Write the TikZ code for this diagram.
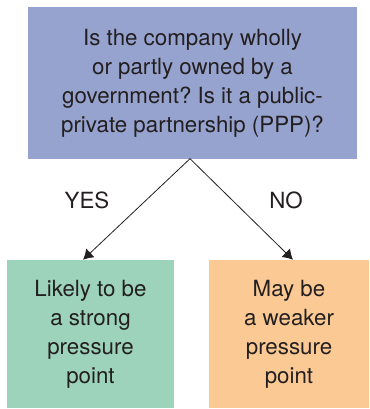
\documentclass[tikz,border=0pt]{standalone}
\usepackage{fontspec}
\setmainfont{TeX Gyre Heros}
\usepackage{xcolor}
\usetikzlibrary{arrows.meta}
\definecolor{askbg}{HTML}{97A3CF}
\definecolor{yesbg}{HTML}{9DD3BA}
\definecolor{nobg}{HTML}{FBCA94}
\definecolor{ink}{HTML}{231F20}
\frenchspacing

\begin{document}
\begin{tikzpicture}[x=1pt,y=-1pt,font=\fontsize{22.3}{29}\selectfont,text=ink,
        box/.style={inner sep=0pt,align=center,anchor=center},
        pick/.style={-{Latex[length=10pt,width=12pt]},line width=0.8pt,ink}]
      \useasboundingbox (0,0) rectangle (369,409);
      \node[box,fill=askbg,minimum width=329pt,minimum height=151pt] (ask) at (192.5,83)
        {Is the company wholly\\or partly owned by a\\government? Is it a public-\\private partnership (PPP)?};
      \node[box,fill=yesbg,minimum width=167pt,minimum height=148pt] (yes) at (90.5,334)
        {Likely to be\\a strong\\pressure\\point};
      \node[box,fill=nobg,minimum width=160pt,minimum height=148pt] (no) at (289,334)
        {May be\\a weaker\\pressure\\point};
      \node (yeslbl) at (87,200) {YES};
      \node (nolbl) at (286,200) {NO};
      \draw[pick] ([xshift=-2.5pt]ask.south) -- ([xshift=-7.5pt]yes.north);
      \draw[pick] ([xshift=-2.5pt]ask.south) -- ([xshift=4pt]no.north);
    \end{tikzpicture}
\end{document}
